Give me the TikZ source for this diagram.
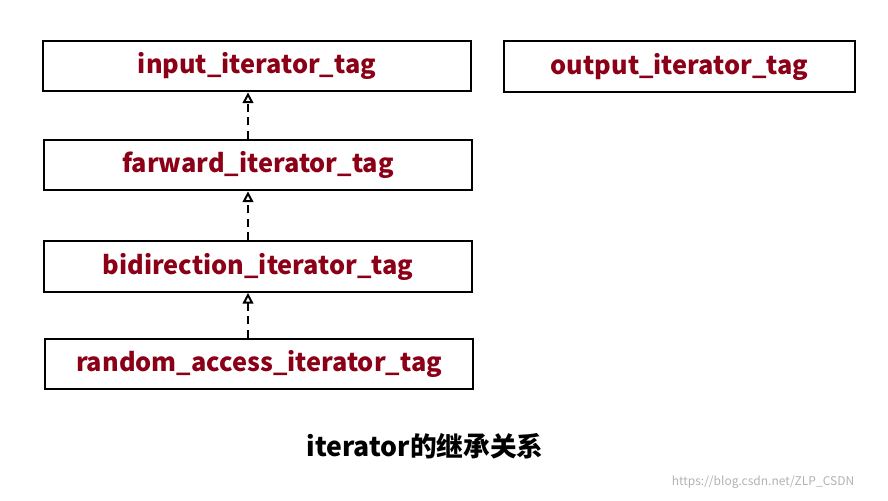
\documentclass[tikz,border=0pt]{standalone}
\usepackage{fontspec}
\setmainfont{Noto Sans CJK SC}
\usetikzlibrary{arrows.meta}
\definecolor{tagred}{HTML}{8B0016}
\tikzset{
 tagbox/.style={draw,line width=1.6pt,minimum height=38pt,text=tagred,
   font=\fontsize{19}{22}\selectfont\bfseries},
 isa/.style={line width=2pt,dash pattern=on 6pt off 4pt,-{Triangle[open,length=8pt,width=8pt,line width=1.5pt]}}
}
\begin{document}
\begin{tikzpicture}[x=0.75pt,y=-0.75pt]
\useasboundingbox (0,0) rectangle (888,500);
\node[tagbox,minimum width=321pt] (input) at (257,66) {input\_iterator\_tag};
\node[tagbox,minimum width=263pt] (output) at (679.5,66.5) {output\_iterator\_tag};
\node[tagbox,minimum width=321pt] (farward) at (258,165) {farward\_iterator\_tag};
\node[tagbox,minimum width=321pt] (bidir) at (258,266.5) {bidirection\_iterator\_tag};
\node[tagbox,minimum width=321pt] (random) at (259,364) {random\_access\_iterator\_tag};
\draw[isa] ([xshift=-7.5pt]farward.north) -- ([xshift=-6.75pt]input.south);
\draw[isa] ([xshift=-7.5pt]bidir.north) -- ([xshift=-7.5pt]farward.south);
\draw[isa] ([xshift=-8.25pt]random.north) -- ([xshift=-7.5pt]bidir.south);
\node[font=\fontsize{20}{24}\selectfont\bfseries] (caption) at (425,446) {iterator的继承关系};
\node[text=black!30,font=\fontsize{9}{11}\selectfont] (mark) at (763,482) {https://blog.csdn.net/ZLP\_CSDN};
\end{tikzpicture}
\end{document}
